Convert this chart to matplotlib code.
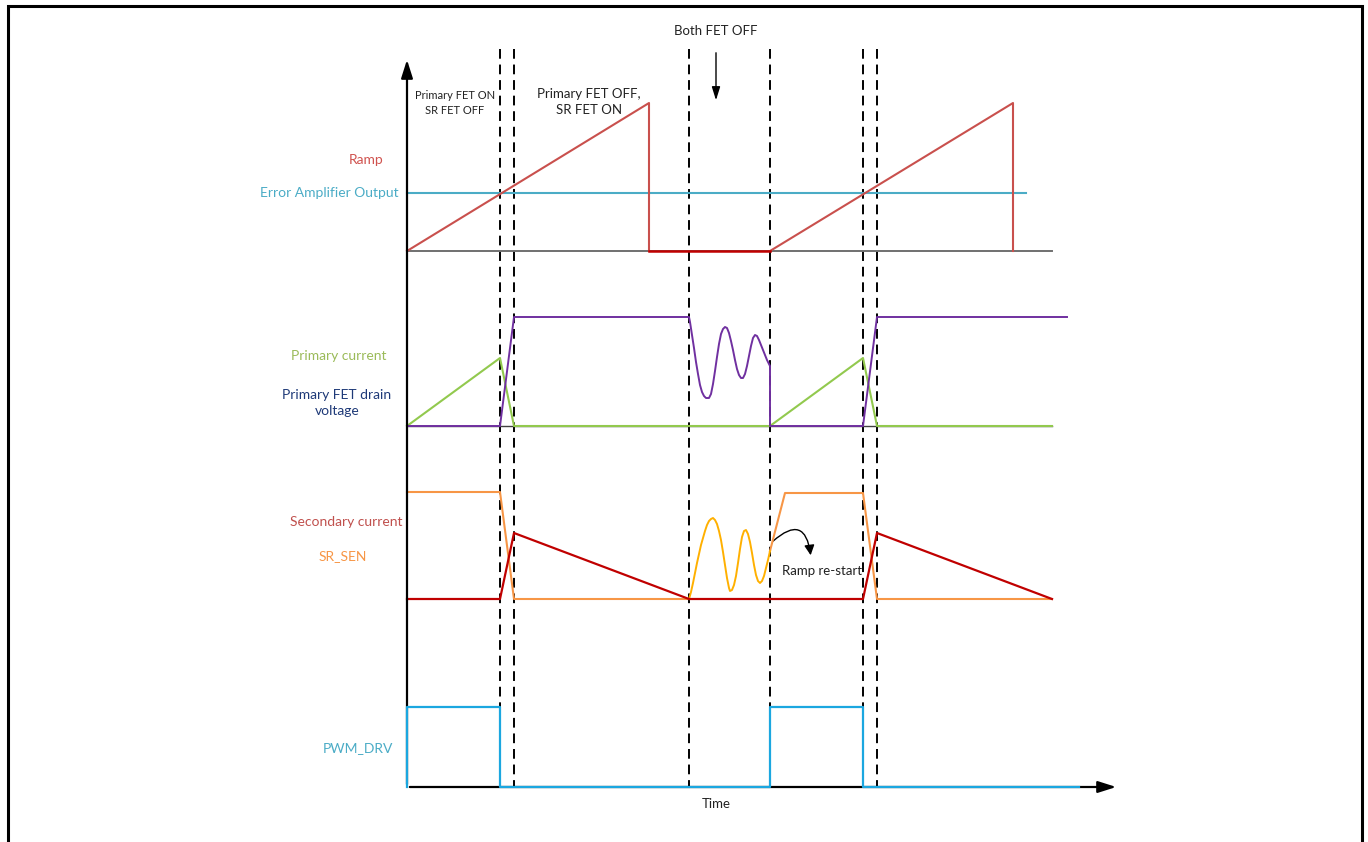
import matplotlib
matplotlib.use("Agg")
import matplotlib.pyplot as plt
from matplotlib.patches import FancyArrowPatch

plt.rcParams['font.family'] = ['Lato', 'DejaVu Sans']

# all positions in picture pixels (x right, y down)
t_axis = 407
t_end = 1119
y_top = 57
y_base = 787

# switching instants (dashed markers)
t_marks = [500, 514, 689, 770, 863, 877]

# ramp vs error amplifier
ramp_t = [407, 649, 649]
ramp_v = [251, 103, 251]
ramp2_t = [770, 1013, 1013]
ramp2_v = [251, 103, 251]
ramp_idle_t = [649, 770]
ramp_idle_v = [251, 251]
ramp_base = 251
ramp_base_end = 1052
ea_level = 193
ea_end = 1026

# primary current / drain voltage
ip_t = [407, 500, 514, 770, 863, 877, 1052]
ip_v = [426, 358, 426, 426, 358, 426, 426]
vd_t = [407, 500, 514, 689, 690, 692, 694, 696, 698, 700, 702, 704, 706, 709,
        711, 713, 715, 717, 719, 721, 723, 725, 727, 729, 731, 733, 735, 737,
        739, 741, 743, 745, 747, 749, 751, 753, 755, 757, 759, 761, 763, 765,
        767, 769, 770, 770, 863, 877, 1067]
vd_v = [426, 426, 317, 317, 322, 335, 348, 362, 374, 385, 392, 396, 398, 398,
        394, 384, 371, 357, 344, 334, 329, 327, 328, 333, 341, 350, 360, 369,
        375, 378, 378, 374, 366, 356, 346, 338, 335, 336, 340, 345, 350, 355,
        360, 364, 366, 426, 426, 317, 317]
prim_base = 426

# secondary current / SR_SEN
is_t = [407, 500, 514, 689, 863, 877, 1052]
is_v = [599, 599, 533, 599, 599, 533, 599]
sr_t = [407, 500, 514, 689]
sr_v = [492, 492, 599, 599]
ring_t = [689, 691, 693, 695, 697, 699, 701, 703, 705, 707, 709, 711, 713, 715,
          717, 719, 721, 723, 725, 727, 729, 730, 732, 734, 736, 738, 740, 742,
          744, 746, 748, 750, 752, 754, 756, 758, 760, 762, 764, 766, 768, 770]
ring_v = [599, 592, 583, 573, 563, 554, 545, 538, 531, 525, 521, 519, 518, 520,
          524, 531, 540, 552, 565, 578, 588, 591, 590, 585, 576, 563, 549, 537,
          531, 530, 534, 542, 553, 565, 575, 581, 583, 581, 576, 568, 560, 551]
sr2_t = [770, 785, 863, 877, 1052]
sr2_v = [551, 493, 493, 599, 599]

# PWM drive
pwm_t = [407, 407, 500, 500, 770, 770, 863, 863, 1079]
pwm_v = [787, 707, 707, 787, 787, 707, 707, 787, 787]

fig = plt.figure(figsize=(13.68, 8.42), dpi=100)
ax = fig.add_axes([0, 0, 1, 1])
ax.set_xlim(0, 1368)
ax.set_ylim(842, 0)
ax.axis('off')

# outer frame
ax.plot([8, 8, 1362, 1362], [845, 6, 6, 845], color='black', lw=2.2, solid_joinstyle='miter')

# dashed markers
for t in t_marks:
    ax.plot([t, t], [49, y_base], color='black', lw=1.4, ls=(0, (5, 3)), zorder=1)

# axes arrows
ax.annotate('', xy=(t_axis, y_top), xytext=(t_axis, y_base),
            arrowprops=dict(arrowstyle='-|>,head_length=1.1,head_width=0.35', color='black', lw=1.6))
ax.annotate('', xy=(t_end, y_base), xytext=(t_axis, y_base),
            arrowprops=dict(arrowstyle='-|>,head_length=1.1,head_width=0.35', color='black', lw=1.6))

# ramp section
ax.plot([t_axis, ramp_base_end], [ramp_base, ramp_base], color='#707070', lw=1.4)
ax.plot([t_axis, ea_end], [ea_level, ea_level], color='#4BACC6', lw=1.5)
ax.plot(ramp_t, ramp_v, color='#C9504D', lw=1.5)
ax.plot(ramp2_t, ramp2_v, color='#C9504D', lw=1.5)
ax.plot(ramp_idle_t, ramp_idle_v, color='#C00000', lw=1.8)

# primary section
ax.plot([t_axis, 1052], [prim_base, prim_base], color='#404040', lw=1.0)
ax.plot(ip_t, ip_v, color='#92C94E', lw=1.5)
ax.plot(vd_t, vd_v, color='#7030A0', lw=1.4)

# secondary section
ax.plot(sr_t, sr_v, color='#F79646', lw=1.5)
ax.plot(sr2_t, sr2_v, color='#F79646', lw=1.5)
ax.plot(ring_t, ring_v, color='#FFB000', lw=1.4)
ax.plot(is_t, is_v, color='#C00000', lw=1.6)

# pwm
ax.plot(pwm_t, pwm_v, color='#1BA7E0', lw=1.6, zorder=3)

# curved arrow
arc = FancyArrowPatch((771, 543), (811, 558), connectionstyle='arc3,rad=-1.0',
                      arrowstyle='-|>,head_length=6,head_width=3', color='black', lw=1.0)
ax.add_patch(arc)

# Both FET OFF marker
ax.text(716, 31, 'Both FET OFF', ha='center', va='center', fontsize=9.5, color='#222222')
ax.annotate('', xy=(716, 103), xytext=(716, 50),
            arrowprops=dict(arrowstyle='-|>,head_length=0.8,head_width=0.25', color='black', lw=1.0))

# phase notes
ax.text(455, 103, 'Primary FET ON\nSR FET OFF', ha='center', va='center', fontsize=8,
        color='#222222', linespacing=1.35)
ax.text(589, 102, 'Primary FET OFF,\nSR FET ON', ha='center', va='center', fontsize=9.5,
        color='#222222', linespacing=1.4)
ax.text(782, 571, 'Ramp re-start', ha='left', va='center', fontsize=9.5, color='#222222')
ax.text(716, 804, 'Time', ha='center', va='center', fontsize=9.5, color='#222222')

# signal names
ax.text(366, 160, 'Ramp', ha='center', va='center', fontsize=10, color='#D0534F')
ax.text(399, 193, 'Error Amplifier Output', ha='right', va='center', fontsize=10, color='#4BACC6')
ax.text(339, 356, 'Primary current', ha='center', va='center', fontsize=10, color='#9BBB59')
ax.text(337, 403, 'Primary FET drain\nvoltage', ha='center', va='center', fontsize=10,
        color='#1F3A78', linespacing=1.4)
ax.text(346, 522, 'Secondary current', ha='center', va='center', fontsize=10, color='#C0504D')
ax.text(343, 556, 'SR_SEN', ha='center', va='center', fontsize=10, color='#F79646')
ax.text(358, 748, 'PWM_DRV', ha='center', va='center', fontsize=10, color='#4BACC6')

fig.savefig('out.png', dpi=100)
